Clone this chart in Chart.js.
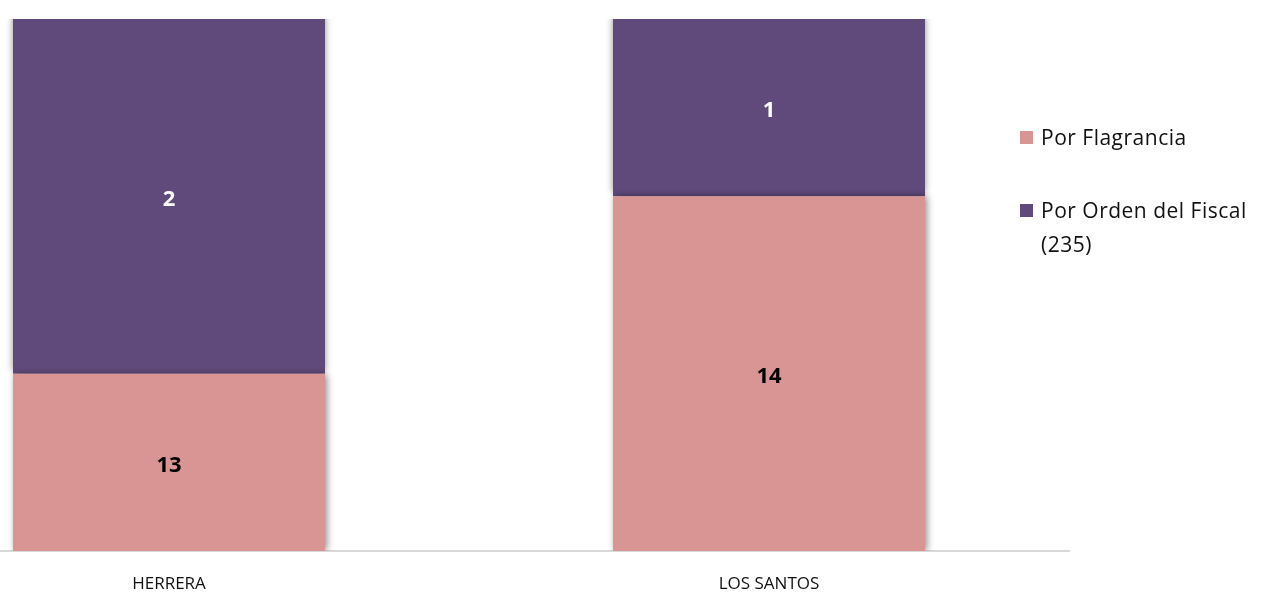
<!DOCTYPE html>
<html><head><meta charset="utf-8">
<script src="https://cdn.jsdelivr.net/npm/chart.js@4/dist/chart.umd.min.js"></script>
<style>
html,body{margin:0;padding:0;background:#fff;overflow:hidden;width:1261px;height:592px;position:relative;font-family:"Open Sans",sans-serif}
#wrap{position:absolute;left:-131px;top:0;width:1392px;height:592px}
#legend{position:absolute;left:1020px;top:120px;font-size:21px;color:#111;line-height:34px;letter-spacing:0.5px}
#legend .item{display:flex;align-items:flex-start;margin-bottom:39px}
#legend .sw{width:13px;height:13px;margin-top:11px;margin-right:8px;flex:none}
</style></head><body>
<div id="wrap"><canvas id="c" width="1392" height="592"></canvas></div>
<div id="legend"></div>
<script>
const categories = ["HERRERA", "LOS SANTOS"];
const seriesNames = ["Por Flagrancia", "Por Orden del Fiscal (235)"];
const flagranciaShare = [33.3, 66.7];
const ordenShare = [66.7, 33.3];
const flagranciaLabels = ["13", "14"];
const ordenLabels = ["2", "1"];
const colors = ["#d99594", "#604a7b"];
const labelColors = ["#000000", "#ffffff"];

const valueLabels = {
  id: 'valueLabels',
  afterDatasetsDraw(chart) {
    const ctx = chart.ctx;
    const texts = [flagranciaLabels, ordenLabels];
    chart.data.datasets.forEach((ds, di) => {
      const meta = chart.getDatasetMeta(di);
      meta.data.forEach((el, i) => {
        const p = el.getProps(['x', 'y', 'base'], true);
        ctx.save();
        ctx.fillStyle = labelColors[di];
        ctx.font = 'bold 22px "Open Sans", sans-serif';
        ctx.textAlign = 'center';
        ctx.textBaseline = 'middle';
        ctx.fillText(texts[di][i], p.x, (p.y + p.base) / 2 + 3);
        ctx.restore();
      });
    });
  }
};
const shadow = {
  id: 'shadow',
  beforeDatasetDraw(chart, args) {
    const ctx = chart.ctx;
    ctx.save();
    ctx.shadowColor = 'rgba(0,0,0,0.45)';
    ctx.shadowBlur = 7;
    ctx.shadowOffsetX = args.index === 0 ? 2 : 0;
    ctx.shadowOffsetY = args.index === 1 ? -3 : 0;
  },
  afterDatasetDraw(chart) { chart.ctx.restore(); }
};

new Chart(document.getElementById('c'), {
  type: 'bar',
  data: {
    labels: categories,
    datasets: [
      { label: seriesNames[0], data: flagranciaShare, backgroundColor: colors[0], borderWidth: 0 },
      { label: seriesNames[1], data: ordenShare, backgroundColor: colors[1], borderWidth: 0 }
    ]
  },
  options: {
    responsive: false, animation: false,
    layout: { padding: { top: 19, right: 192, left: 0, bottom: 0 } },
    plugins: { legend: { display: false }, tooltip: { enabled: false } },
    datasets: { bar: { categoryPercentage: 1, barPercentage: 0.52 } },
    scales: {
      x: {
        stacked: true,
        grid: { display: false, drawTicks: false },
        border: { display: true, color: '#d9d9d9', width: 2 },
        ticks: { color: '#111', font: { family: '"Open Sans", sans-serif', size: 17 }, padding: 23 },
        afterFit(s) { s.height = 41; }
      },
      y: { stacked: true, min: 0, max: 100, display: false }
    }
  },
  plugins: [shadow, valueLabels]
});

const lg = document.getElementById('legend');
seriesNames.forEach((n, i) => {
  const d = document.createElement('div'); d.className = 'item';
  const sw = document.createElement('span'); sw.className = 'sw'; sw.style.background = colors[i];
  const t = document.createElement('span'); t.textContent = n; t.style.maxWidth = '222px';
  d.appendChild(sw); d.appendChild(t); lg.appendChild(d);
});
</script>
</body></html>
